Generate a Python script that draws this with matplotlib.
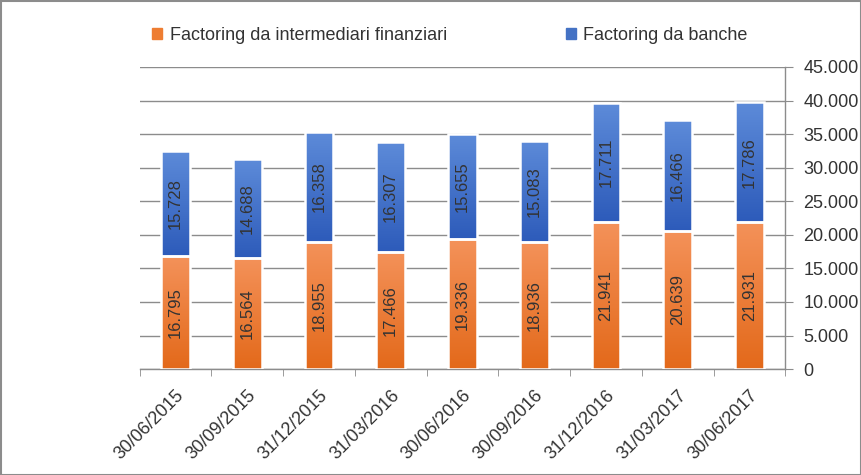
import matplotlib
matplotlib.use("Agg")
import matplotlib.pyplot as plt
import numpy as np
from matplotlib.colors import LinearSegmentedColormap
from matplotlib.ticker import FuncFormatter, MultipleLocator

dates = ["30/06/2015", "30/09/2015", "31/12/2015", "31/03/2016", "30/06/2016",
         "30/09/2016", "31/12/2016", "31/03/2017", "30/06/2017"]
intermediari = [16795, 16564, 18955, 17466, 19336, 18936, 21941, 20639, 21931]
banche = [15728, 14688, 16358, 16307, 15655, 15083, 17711, 16466, 17786]
series_names = ["Factoring da intermediari finanziari", "Factoring da banche"]

plt.rcParams["font.family"] = ["Liberation Sans", "DejaVu Sans"]

orange_cmap = LinearSegmentedColormap.from_list("o", ["#e3691a", "#f4925a"])
blue_cmap = LinearSegmentedColormap.from_list("b", ["#2d5bba", "#5d8bd9"])

fig = plt.figure(figsize=(8.62, 4.75), dpi=100)
ax = fig.add_axes([0.162, 0.223, 0.749, 0.636])

x = np.arange(len(dates))
width = 0.4
grad = np.linspace(0, 1, 256).reshape(-1, 1)


def gradient_bars(bars, cmap):
    for patch in bars:
        x0, y0 = patch.get_x(), patch.get_y()
        w, h = patch.get_width(), patch.get_height()
        im = ax.imshow(grad, cmap=cmap, origin="lower", aspect="auto",
                       extent=[x0, x0 + w, y0, y0 + h], zorder=2)
        im.set_clip_path(patch)


b1 = ax.bar(x, intermediari, width, color="none", edgecolor="white", linewidth=1.8,
            zorder=3, label=series_names[0])
b2 = ax.bar(x, banche, width, bottom=intermediari, color="none", edgecolor="white",
            linewidth=1.8, zorder=3, label=series_names[1])
gradient_bars(b1, orange_cmap)
gradient_bars(b2, blue_cmap)


def fmt(v):
    return f"{v:,}".replace(",", ".")


for i in range(len(dates)):
    ax.text(x[i], intermediari[i] / 2, fmt(intermediari[i]), rotation=90,
            ha="center", va="center", fontsize=12, color="#333333", zorder=4)
    ax.text(x[i], intermediari[i] + banche[i] / 2, fmt(banche[i]), rotation=90,
            ha="center", va="center", fontsize=12, color="#333333", zorder=4)

ax.set_xlim(-0.5, len(dates) - 0.5)
ax.set_ylim(0, 45000)
ax.yaxis.set_major_locator(MultipleLocator(5000))
ax.yaxis.set_major_formatter(FuncFormatter(lambda v, p: fmt(int(v))))
ax.yaxis.tick_right()
ax.grid(axis="y", color="#8c8c8c", linewidth=1.0, zorder=1)
ax.set_axisbelow(True)

for s in ["left", "top"]:
    ax.spines[s].set_visible(False)
for s in ["right", "bottom"]:
    ax.spines[s].set_color("#8c8c8c")
    ax.spines[s].set_linewidth(1.0)

ax.tick_params(axis="y", which="major", length=6, color="#8c8c8c", labelsize=13,
               labelcolor="#333333", pad=7)
ax.set_xticks(x)
ax.set_xticklabels(dates, rotation=45, ha="right", rotation_mode="anchor",
                   fontsize=13, color="#333333")
ax.tick_params(axis="x", which="major", length=0, pad=13)
ax.set_xticks(np.arange(-0.5, len(dates)), minor=True)
ax.tick_params(axis="x", which="minor", length=5, color="#8c8c8c")

handles = [plt.Rectangle((0, 0), 1, 1, color="#ee7d32"),
           plt.Rectangle((0, 0), 1, 1, color="#4472c4")]
fig.legend(handles, series_names, loc="center", bbox_to_anchor=(0.522, 0.925), ncol=2,
           frameon=False, fontsize=13, handlelength=0.55, handleheight=0.55,
           handletextpad=0.4, columnspacing=6.6, labelcolor="#333333")

fig.patches.append(plt.Rectangle((0.001, 0.001), 0.998, 0.997, transform=fig.transFigure,
                                 fill=False, edgecolor="#8c8c8c", linewidth=1.5))

fig.savefig("out.png", dpi=100)
